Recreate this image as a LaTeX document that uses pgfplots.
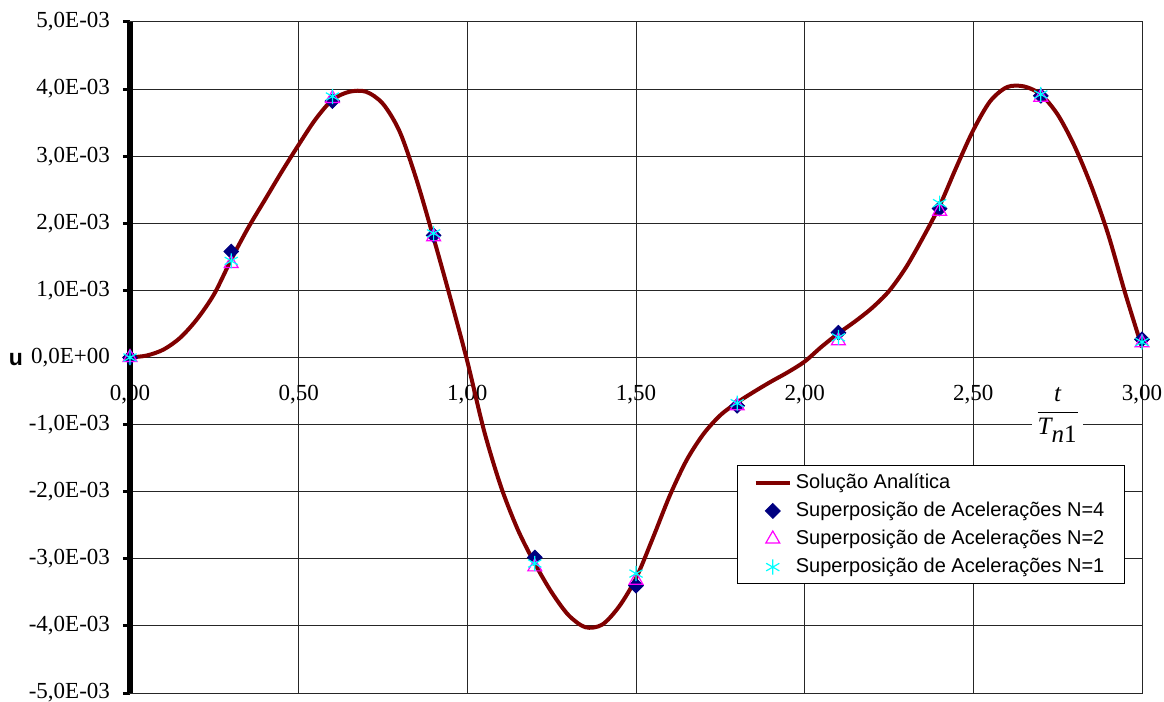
\documentclass[border=0pt]{standalone}
\usepackage{pgfplots}
\pgfplotsset{compat=1.18}
\usepackage{fontspec}
\setmainfont{Liberation Serif}
\newfontfamily\arial{Liberation Sans}
\definecolor{curvec}{HTML}{800000}
\definecolor{navyc}{HTML}{000080}
\definecolor{magc}{HTML}{FF00FF}
\definecolor{cyanc}{HTML}{00FFFF}
\begin{document}
\begin{tikzpicture}
\begin{axis}[name=ax,
 scale only axis, width=506pt, height=335.5pt,
 xmin=0, xmax=3, ymin=-0.005, ymax=0.005,
 xtick={0,0.5,1,1.5,2,2.5,3},
 xticklabels={{0,00},{0,50},{1,00},{1,50},{2,00},{2,50},{3,00}},
 ytick={-0.005,-0.004,-0.003,-0.002,-0.001,0,0.001,0.002,0.003,0.004,0.005},
 yticklabels={{-5,0E-03},{-4,0E-03},{-3,0E-03},{-2,0E-03},{-1,0E-03},{0,0E+00},{1,0E-03},{2,0E-03},{3,0E-03},{4,0E-03},{5,0E-03}},
 scaled y ticks=false, scaled x ticks=false,
 grid=major, major grid style={black!85, line width=0.5pt},
 axis line style={black!85, line width=0.5pt},
 tick align=outside, ytick pos=left, xtick pos=bottom,
 xtick style={draw=none},
 ytick style={black, line width=1.5pt},
 major tick length=3.5pt,
 ticklabel style={font=\fontsize{11.5}{13}\selectfont},
 xticklabel style={yshift=161pt},
 yticklabel style={xshift=-3pt},
 clip=false,
 legend style={at={(0.6,0.3393)}, anchor=north west, draw=black, line width=0.5pt, fill=white,
   font=\arial\fontsize{10}{12}\selectfont, inner xsep=8pt, inner ysep=2pt, row sep=1.3pt},
 legend cell align=left,
]
\draw[line width=3pt, black] (axis cs:0,-0.005) -- (axis cs:0,0.005);
\addplot[curvec, line width=2pt, smooth, no marks] coordinates {
(0.00,0) (0.05,0.03e-3) (0.10,0.12e-3) (0.15,0.30e-3) (0.20,0.58e-3) (0.25,0.95e-3)
(0.30,1.46e-3) (0.35,1.93e-3) (0.40,2.35e-3) (0.45,2.77e-3) (0.50,3.17e-3) (0.55,3.55e-3)
(0.60,3.84e-3) (0.65,3.96e-3) (0.70,3.96e-3) (0.75,3.78e-3) (0.80,3.36e-3)
(0.85,2.64e-3) (0.90,1.78e-3) (0.95,0.88e-3) (1.00,-0.06e-3) (1.05,-1.10e-3) (1.10,-1.93e-3)
(1.15,-2.57e-3) (1.20,-3.07e-3) (1.25,-3.50e-3) (1.30,-3.84e-3) (1.35,-4.02e-3)
(1.40,-3.98e-3) (1.45,-3.71e-3) (1.50,-3.29e-3) (1.55,-2.69e-3) (1.60,-2.06e-3) (1.65,-1.53e-3)
(1.70,-1.14e-3) (1.75,-0.86e-3) (1.80,-0.67e-3) (1.85,-0.51e-3) (1.90,-0.36e-3) (1.95,-0.22e-3)
(2.00,-0.06e-3) (2.05,0.16e-3) (2.10,0.36e-3) (2.15,0.54e-3) (2.20,0.74e-3) (2.25,0.99e-3)
(2.30,1.34e-3) (2.35,1.78e-3) (2.40,2.26e-3) (2.45,2.84e-3) (2.50,3.39e-3) (2.55,3.82e-3)
(2.60,4.03e-3) (2.65,4.04e-3) (2.70,3.92e-3) (2.75,3.62e-3) (2.80,3.15e-3)
(2.85,2.55e-3) (2.90,1.83e-3) (2.95,0.96e-3) (3.00,0.15e-3)
};
\addlegendentry{Solução Analítica}
\addplot[only marks, mark=square*, mark size=2.6pt, mark options={rotate=45, fill=navyc, draw=navyc}] coordinates {
(0,0) (0.3,1.58e-3) (0.6,3.82e-3) (0.9,1.82e-3) (1.2,-2.98e-3) (1.5,-3.40e-3)
(1.8,-0.72e-3) (2.1,0.37e-3) (2.4,2.22e-3) (2.7,3.90e-3) (3.0,0.27e-3)
};
\addlegendentry{Superposição de Acelerações N=4}
\addplot[only marks, mark=triangle, mark size=4pt, mark options={draw=magc, line width=0.6pt}] coordinates {
(0,0) (0.3,1.40e-3) (0.6,3.86e-3) (0.9,1.80e-3) (1.2,-3.12e-3) (1.5,-3.32e-3)
(1.8,-0.72e-3) (2.1,0.25e-3) (2.4,2.18e-3) (2.7,3.88e-3) (3.0,0.22e-3)
};
\addlegendentry{Superposição de Acelerações N=2}
\addplot[only marks, mark=asterisk, mark size=3.8pt, mark options={draw=cyanc, line width=0.6pt}] coordinates {
(0,0) (0.3,1.44e-3) (0.6,3.89e-3) (0.9,1.85e-3) (1.2,-3.07e-3) (1.5,-3.22e-3)
(1.8,-0.68e-3) (2.1,0.30e-3) (2.4,2.30e-3) (2.7,3.92e-3) (3.0,0.23e-3)
};
\addlegendentry{Superposição de Acelerações N=1}
\node[fill=white, inner sep=1.5pt] at (axis cs:2.75,-0.00086) {\fontsize{12.5}{14}\selectfont$\displaystyle\frac{\textit{t}}{\textit{T}_{\textit{n}\textup{1}}}$};
\node[font=\arial\bfseries\fontsize{11.5}{13}\selectfont, anchor=base, xshift=-57pt, yshift=-4pt] at (axis cs:0,0) {u};
\end{axis}
\pgfresetboundingbox
\path ([shift={(-65pt,-4pt)}]ax.south west) rectangle ([shift={(11pt,11pt)}]ax.north east);
\end{tikzpicture}
\end{document}
